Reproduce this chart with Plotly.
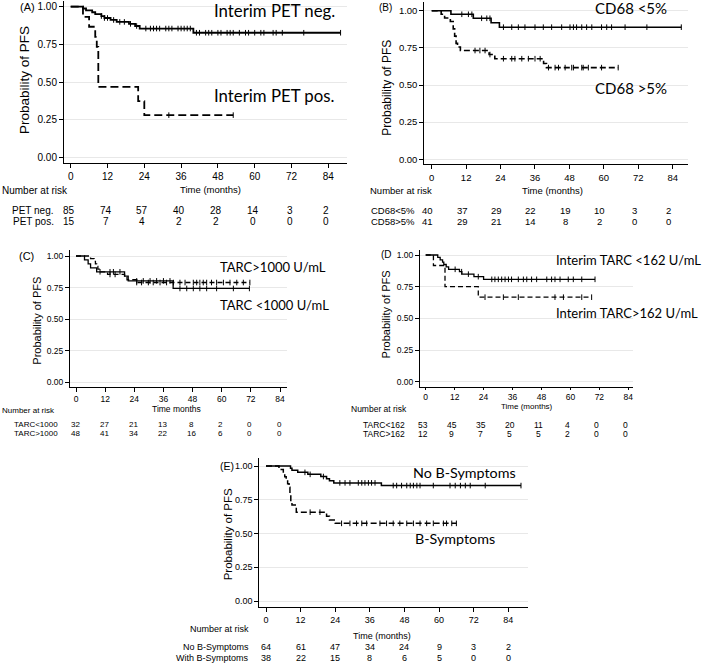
import numpy as np
import plotly.graph_objects as go

W, H = 709, 664

# ---------------- DATA ----------------
# Panel A
a_neg_t = [0, 4, 5, 7, 8, 10, 11, 13, 15, 19, 21, 22.5, 40]
a_neg_s = [1.0, 0.988, 0.976, 0.963, 0.951, 0.938, 0.925, 0.912, 0.899, 0.886, 0.872, 0.855, 0.827]
a_neg_end = 88
a_neg_cens = [10, 11, 12, 14, 16, 17.5, 19.5, 21.5, 24.5, 26, 27, 28, 29, 31, 32, 33, 35, 36, 37, 38, 39,
              41, 42, 44, 45, 46, 48, 49, 51, 52, 53, 55, 57, 58, 60, 62, 63, 66, 67, 69, 76, 88]
a_pos_t = [0, 4, 6, 8, 8.5, 9, 22, 24]
a_pos_s = [1.0, 0.933, 0.867, 0.80, 0.733, 0.467, 0.373, 0.28]
a_pos_end = 53
a_pos_cens = [32, 53]
a_risk_labels = ["PET neg.", "PET pos."]
a_risk_neg = [85, 74, 57, 40, 28, 14, 3, 2]
a_risk_pos = [15, 7, 4, 2, 2, 0, 0, 0]

# Panel B
b_lo_t = [0, 6.7, 14.5, 20.7, 23.6]
b_lo_s = [1.0, 0.976, 0.949, 0.919, 0.889]
b_lo_end = 87
b_lo_cens = [10.5, 12.8, 14, 17.4, 19.2, 20.3, 25, 27.9, 30.2, 32.5, 36, 38.9, 41.8, 45.3, 48.2, 49.4,
             50.5, 52.3, 54, 55.8, 59.2, 61, 62.7, 67.4, 75, 87]
b_hi_t = [0, 3.3, 4.5, 6.5, 7.5, 8, 8.5, 9, 10, 20, 22, 39, 40]
b_hi_s = [1.0, 0.976, 0.951, 0.927, 0.878, 0.829, 0.78, 0.756, 0.732, 0.705, 0.677, 0.645, 0.617]
b_hi_end = 65
b_hi_cens = [15.1, 16.8, 18.6, 20.3, 25, 27.9, 29, 31.4, 33.7, 36, 37.8, 40.7, 43, 44.2, 46.5, 48.8,
             49.4, 52.3, 52.8, 54.6, 59.2, 65]
b_risk_labels = ["CD68<5%", "CD58>5%"]
b_risk_lo = [40, 37, 29, 22, 19, 10, 3, 2]
b_risk_hi = [41, 29, 21, 14, 8, 2, 0, 0]

# Panel C
c_lo_t = [0, 3.5, 5, 6, 8.5, 20, 21.5, 40]
c_lo_s = [1.0, 0.969, 0.938, 0.906, 0.875, 0.84, 0.803, 0.743]
c_lo_end = 71.4
c_lo_cens = [9.9, 14, 15.4, 18.1, 25, 27.7, 30.5, 33.2, 36, 38.7, 42.8, 45.6, 48.3, 51, 53.8, 57.9, 64.8, 71.4]
c_hi_t = [0, 6, 7.5, 8, 8.5, 9, 10, 13, 20, 21, 25]
c_hi_s = [1.0, 0.979, 0.958, 0.938, 0.917, 0.896, 0.875, 0.854, 0.833, 0.812, 0.79]
c_hi_end = 71.6
c_hi_cens = [14, 16.1, 25, 27, 29.8, 31.8, 34.6, 37.3, 40.1, 42.8, 44.9, 48.3, 49.7, 51, 52.4, 53.8,
             55.8, 57.9, 60.7, 63.4, 66.2, 68.9, 71.6]
c_risk_labels = ["TARC<1000", "TARC>1000"]
c_risk_lo = [32, 27, 21, 13, 8, 2, 0, 0]
c_risk_hi = [48, 41, 34, 22, 16, 6, 0, 0]

# Panel D
d_lo_t = [0, 5, 6, 7, 7.5, 8.5, 9.5, 14, 15, 20, 24]
d_lo_s = [1.0, 0.981, 0.962, 0.943, 0.925, 0.906, 0.887, 0.868, 0.849, 0.829, 0.808]
d_lo_end = 70.2
d_lo_cens = [12.2, 14.9, 17.7, 21.8, 27.4, 28.7, 30.1, 31.5, 32.9, 34.3, 35.6, 38.4, 40.5, 41.9, 43.9,
             46, 50.2, 52.2, 53.6, 55.7, 59.1, 61.2, 64.7, 70.2]
d_hi_t = [0, 3.2, 8, 21.8]
d_hi_s = [1.0, 0.917, 0.75, 0.667]
d_hi_end = 68.8
d_hi_cens = [24.6, 32.2, 38.4, 53.6, 57.1, 64.7, 68.8]
d_risk_labels = ["TARC<162", "TARC>162"]
d_risk_lo = [53, 45, 35, 20, 11, 4, 0, 0]
d_risk_hi = [12, 9, 7, 5, 5, 2, 0, 0]

# Panel E
e_no_t = [0, 8.5, 9, 11, 14.5, 19, 21, 22, 23.5, 40]
e_no_s = [1.0, 0.984, 0.969, 0.953, 0.938, 0.922, 0.906, 0.891, 0.875, 0.855]
e_no_end = 88.4
e_no_cens = [13.5, 15.3, 19.9, 25.6, 27.4, 29.1, 32, 33.2, 34.3, 35.5, 36.6, 37.8, 44.1, 45.3, 47, 48.8,
             50, 51.1, 52.3, 53.4, 58, 63.8, 65.6, 67.4, 69.1, 70.8, 76, 88.4]
e_b_t = [0, 4.5, 6, 6.5, 7, 7.5, 8, 8.3, 8.6, 9, 10.5, 21, 22, 24]
e_b_s = [1.0, 0.974, 0.947, 0.921, 0.895, 0.868, 0.842, 0.789, 0.737, 0.711, 0.658, 0.627, 0.60, 0.575]
e_b_end = 66
e_b_cens = [15.3, 18.7, 26.2, 29.1, 31.4, 33.2, 34.9, 39.5, 41.8, 44.1, 46.4, 48.8, 51.1, 53.4, 55.7,
            58, 61.5, 62.6, 64.4, 66]
e_risk_labels = ["No B-Symptoms", "With B-Symptoms"]
e_risk_no = [64, 61, 47, 34, 24, 9, 3, 2]
e_risk_b = [38, 22, 15, 8, 6, 5, 0, 0]

risk_times = [0, 12, 24, 36, 48, 60, 72, 84]
y_ticks = [0, 0.25, 0.5, 0.75, 1.0]
x_ticks = [0, 12, 24, 36, 48, 60, 72, 84]

# ---------------- LAYOUT HELPERS ----------------
def px(p):
    return p / W

def py(p):
    return 1 - p / H

AXFONT = "Liberation Sans, Arial, sans-serif"
LEGFONT = "Lato, Open Sans, sans-serif"

panels = [
    dict(tag="(A)", dom=(64, 347, 1, 163.3), cal=(70.7, 328.3, 6.7, 157.3),
         curves=[(a_neg_t, a_neg_s, a_neg_end, a_neg_cens, "solid"),
                 (a_pos_t, a_pos_s, a_pos_end, a_pos_cens, "dash")],
         lw=1.8, dash="8px,4px", tickfs=10, xtl=4, titlefs=13.5, tfs=9.5, rfs=10,
         tagpos=(18, 7, 11), ytitle=(25, 80), xtitle=("Time (months)", 210, 189),
         nar=(0, 190), rows=(210.7, 221.7), rlab=(56, "right"), rshift=-2,
         risk=(a_risk_labels, a_risk_neg, a_risk_pos),
         leg=[("Interim PET neg.", 212, 11, 16.8), ("Interim PET pos.", 212, 95, 16.8)]),
    dict(tag="(B)", dom=(424.3, 688.3, 2, 164.3), cal=(431.7, 672.7, 10.7, 159.3),
         curves=[(b_lo_t, b_lo_s, b_lo_end, b_lo_cens, "solid"),
                 (b_hi_t, b_hi_s, b_hi_end, b_hi_cens, "dash")],
         lw=1.6, dash="6px,3px", tickfs=9.5, xtl=4, titlefs=12, tfs=9.5, rfs=9.5,
         tagpos=(377, 7, 10), ytitle=(386.7, 88), xtitle=("Time (months)", 552.7, 190),
         nar=(368, 190), rows=(211, 221.7), rlab=(369, "left"), rshift=-4,
         risk=(b_risk_labels, b_risk_lo, b_risk_hi),
         leg=[("CD68 <5%", 592.7, 8, 15), ("CD68 >5%", 592.7, 88, 15)]),
    dict(tag="(C)", dom=(70, 287.3, 250, 386.7), cal=(76, 280, 256, 382.3),
         curves=[(c_lo_t, c_lo_s, c_lo_end, c_lo_cens, "solid"),
                 (c_hi_t, c_hi_s, c_hi_end, c_hi_cens, "dash")],
         lw=1.3, dash="5px,3px", tickfs=8.5, xtl=4, titlefs=11, tfs=8.5, rfs=8,
         tagpos=(17, 256, 11), ytitle=(37, 320.7), xtitle=("Time months", 176.7, 409),
         nar=(0, 410), rows=(424.5, 433.5), rlab=(60, "right"), rshift=-1,
         risk=(c_risk_labels, c_risk_lo, c_risk_hi),
         leg=[("TARC>1000 U/mL", 218, 267, 13), ("TARC <1000 U/mL", 218, 305, 13)]),
    dict(tag="(D", dom=(420, 633.3, 250, 386.7), cal=(425.7, 628.3, 255, 381.7),
         curves=[(d_lo_t, d_lo_s, d_lo_end, d_lo_cens, "solid"),
                 (d_hi_t, d_hi_s, d_hi_end, d_hi_cens, "dash")],
         lw=1.3, dash="5px,3px", tickfs=8.5, xtl=2, titlefs=11, tfs=8, rfs=8.5,
         tagpos=(379, 254, 10), ytitle=(385.7, 314.7), xtitle=("Time (months)", 527.3, 406),
         nar=(349, 409), rows=(425, 434), rlab=(361, "left"), rshift=-3,
         risk=(d_risk_labels, d_risk_lo, d_risk_hi),
         leg=[("Interim TARC <162 U/mL", 554, 260, 13), ("Interim TARC>162 U/mL", 554, 313, 13)]),
    dict(tag="(E)", dom=(259.3, 527.7, 458, 606.7), cal=(266, 508.3, 466, 601),
         curves=[(e_no_t, e_no_s, e_no_end, e_no_cens, "solid"),
                 (e_b_t, e_b_s, e_b_end, e_b_cens, "dash")],
         lw=1.5, dash="6px,3px", tickfs=9, xtl=4, titlefs=11.5, tfs=9, rfs=9,
         tagpos=(218, 466, 10.5), ytitle=(228.3, 534), xtitle=("Time (months)", 381.7, 636),
         nar=(188, 629), rows=(646.7, 658.3), rlab=(251, "right"), rshift=0,
         risk=(e_risk_labels, e_risk_no, e_risk_b),
         leg=[("No B-Symptoms", 411, 472, 14.3), ("B-Symptoms", 413, 538, 14.3)]),
]

fig = go.Figure()
annotations = []
layout = {}

for i, p in enumerate(panels, start=1):
    xa = "x" if i == 1 else f"x{i}"
    ya = "y" if i == 1 else f"y{i}"
    xkey = "xaxis" if i == 1 else f"xaxis{i}"
    ykey = "yaxis" if i == 1 else f"yaxis{i}"
    dx0, dx1, dy0, dy1 = p["dom"]
    m0, m84, s1, s0 = p["cal"]
    mpp = 84.0 / (m84 - m0)
    spp = 1.0 / (s0 - s1)
    xr = [(dx0 - m0) * mpp, (dx1 - m0) * mpp]
    yr = [(s0 - dy1) * spp, (s0 - dy0) * spp]

    for (t, s, end, cens, style) in p["curves"]:
        tt = list(t) + [end]
        ss = list(s) + [s[-1]]
        fig.add_trace(go.Scatter(
            x=tt, y=ss, mode="lines", line_shape="hv", xaxis=xa, yaxis=ya,
            line=dict(color="black", width=p["lw"], dash=("solid" if style == "solid" else p["dash"])),
            showlegend=False, hoverinfo="skip"))
        ta = np.array(t, dtype=float)
        sa = np.array(s, dtype=float)
        ca = np.array(cens, dtype=float)
        idx = np.searchsorted(ta, ca, side="right") - 1
        fig.add_trace(go.Scatter(
            x=ca, y=sa[idx], mode="markers", xaxis=xa, yaxis=ya,
            marker=dict(symbol="line-ns", size=4, line=dict(color="black", width=1)),
            showlegend=False, hoverinfo="skip"))

    layout[xkey] = dict(domain=[px(dx0), px(dx1)], range=xr, anchor=ya,
                        tickvals=x_ticks, ticks="outside", ticklen=p["xtl"], tickcolor="black",
                        showline=True, linecolor="black", linewidth=1, showgrid=False,
                        zeroline=False, tickfont=dict(family=AXFONT, size=p["tickfs"], color="black"))
    layout[ykey] = dict(domain=[py(dy1), py(dy0)], range=yr, anchor=xa,
                        tickvals=y_ticks, tickformat=".2f", ticks="outside", ticklen=4,
                        tickcolor="black", showline=True, linecolor="black", linewidth=1,
                        showgrid=True, gridcolor="#e8e8e8", gridwidth=1, zeroline=False,
                        tickfont=dict(family=AXFONT, size=p["tickfs"], color="black"))

    tx, ty, tfs = p["tagpos"]
    annotations.append(dict(text=p["tag"], x=px(tx), y=py(ty), xref="paper", yref="paper",
                            xanchor="left", yanchor="middle", showarrow=False,
                            font=dict(family=AXFONT, size=tfs, color="black")))
    annotations.append(dict(text="Probability of PFS", x=px(p["ytitle"][0]), y=py(p["ytitle"][1]),
                            xref="paper", yref="paper", xanchor="center", yanchor="middle",
                            textangle=-90, showarrow=False,
                            font=dict(family=AXFONT, size=p["titlefs"], color="black")))
    xt, xtx, xty = p["xtitle"]
    annotations.append(dict(text=xt, x=px(xtx), y=py(xty), xref="paper", yref="paper",
                            xanchor="center", yanchor="middle", showarrow=False,
                            font=dict(family=AXFONT, size=p["tfs"], color="black")))
    annotations.append(dict(text="Number at risk", x=px(p["nar"][0]), y=py(p["nar"][1]),
                            xref="paper", yref="paper", xanchor="left", yanchor="middle",
                            showarrow=False, font=dict(family=AXFONT, size=p["rfs"], color="black")))
    labels, r1, r2 = p["risk"]
    for lab, row, ry in zip(labels, [r1, r2], p["rows"]):
        annotations.append(dict(text=lab, x=px(p["rlab"][0]), y=py(ry), xref="paper", yref="paper",
                                xanchor=p["rlab"][1], yanchor="middle", showarrow=False,
                                font=dict(family=AXFONT, size=p["rfs"], color="black")))
        for tm, v in zip(risk_times, row):
            annotations.append(dict(text=str(v), x=tm, y=py(ry), xref=xa, yref="paper",
                                    xanchor="center", yanchor="middle", xshift=p["rshift"],
                                    showarrow=False,
                                    font=dict(family=AXFONT, size=p["rfs"], color="black")))
    for (txt, lx, ly, lfs) in p["leg"]:
        annotations.append(dict(text=txt, x=px(lx), y=py(ly), xref="paper", yref="paper",
                                xanchor="left", yanchor="middle", showarrow=False,
                                font=dict(family=LEGFONT, size=lfs, color="black")))

fig.update_layout(width=W, height=H, margin=dict(l=0, r=0, t=0, b=0),
                  paper_bgcolor="white", plot_bgcolor="white", showlegend=False,
                  annotations=annotations, **layout)

fig.write_html("out.html", config={"displayModeBar": False, "staticPlot": True},
               post_script="document.body.style.margin='0px';document.body.style.padding='0px';")
